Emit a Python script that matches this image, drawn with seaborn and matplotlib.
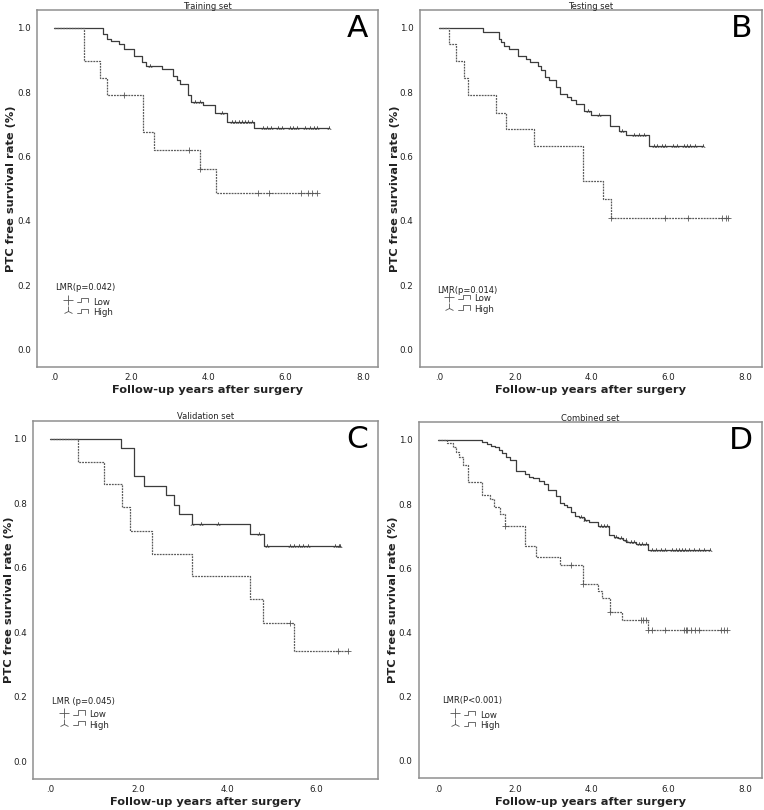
import numpy as np
import pandas as pd
import matplotlib
matplotlib.use("Agg")
import matplotlib.pyplot as plt
import seaborn as sns
from matplotlib.lines import Line2D
from matplotlib.legend_handler import HandlerBase

# step values: event times, survival after each event, censor times
# A - training set
A_low_t = [0.78, 1.19, 1.38, 2.30, 2.59, 3.79, 4.19]
A_low_s = [0.896, 0.843, 0.790, 0.677, 0.620, 0.560, 0.488]
A_low_c = [1.80, 3.50, 3.79, 5.28, 5.58, 6.39, 6.58, 6.69, 6.81]
A_high_t = [1.28, 1.38, 1.48, 1.68, 1.80, 2.08, 2.27, 2.38, 2.79, 3.09, 3.18, 3.26, 3.48,
            3.54, 3.87, 4.17, 4.49, 5.19]
A_high_s = [0.980, 0.966, 0.958, 0.949, 0.936, 0.913, 0.893, 0.881, 0.872, 0.850, 0.838, 0.827,
            0.793, 0.770, 0.759, 0.734, 0.707, 0.688]
A_high_c = [2.49, 3.65, 3.77, 4.34, 4.60, 4.69, 4.78, 4.86, 4.95, 5.03, 5.12, 5.42, 5.51, 5.61,
            5.81, 5.90, 6.11, 6.20, 6.29, 6.50, 6.63, 6.72, 6.81, 7.11]

# B - testing set
B_low_t = [0.26, 0.45, 0.65, 0.76, 1.48, 1.76, 2.48, 3.77, 4.29, 4.49]
B_low_s = [0.949, 0.896, 0.843, 0.790, 0.737, 0.685, 0.632, 0.525, 0.468, 0.409]
B_low_c = [4.49, 5.90, 6.50, 7.40, 7.50, 7.54]
B_high_t = [1.15, 1.57, 1.63, 1.71, 1.84, 2.07, 2.28, 2.37, 2.58, 2.68, 2.78, 2.87, 3.07, 3.17,
            3.35, 3.46, 3.57, 3.78, 3.98, 4.48, 4.70, 4.90, 5.48]
B_high_s = [0.989, 0.966, 0.955, 0.945, 0.934, 0.914, 0.903, 0.893, 0.882, 0.869, 0.848, 0.838,
            0.815, 0.796, 0.786, 0.775, 0.763, 0.741, 0.729, 0.694, 0.681, 0.667, 0.632]
B_high_c = [3.89, 4.19, 4.78, 5.10, 5.22, 5.35, 5.61, 5.70, 5.83, 5.91, 6.11, 6.22, 6.39, 6.48,
            6.57, 6.70, 6.91]

# C - validation set
C_low_t = [0.62, 1.22, 1.62, 1.81, 2.31, 3.21, 4.51, 4.81, 5.51]
C_low_s = [0.929, 0.859, 0.787, 0.715, 0.644, 0.573, 0.502, 0.430, 0.343]
C_low_c = [5.42, 6.50, 6.72]
C_high_t = [1.60, 1.90, 2.11, 2.61, 2.80, 2.91, 3.21, 4.51, 4.82]
C_high_s = [0.972, 0.884, 0.854, 0.825, 0.796, 0.767, 0.737, 0.704, 0.668]
C_high_c = [3.21, 3.41, 3.80, 4.72, 4.90, 5.41, 5.51, 5.62, 5.71, 5.81, 6.43, 6.52, 6.54]

# D - combined set
D_low_t = [0.23, 0.39, 0.47, 0.56, 0.66, 0.77, 1.15, 1.35, 1.46, 1.62, 1.75, 2.26, 2.55, 3.18,
           3.78, 4.17, 4.28, 4.48, 4.78, 5.47]
D_low_s = [0.990, 0.977, 0.962, 0.946, 0.922, 0.868, 0.829, 0.815, 0.790, 0.770, 0.731, 0.671,
           0.635, 0.612, 0.552, 0.531, 0.508, 0.464, 0.438, 0.409]
D_low_c = [1.75, 3.47, 3.78, 4.48, 5.28, 5.34, 5.41, 5.47, 5.58, 5.90, 6.39, 6.45, 6.49, 6.58,
           6.69, 6.79, 7.36, 7.44, 7.51]
D_high_t = [1.15, 1.28, 1.39, 1.49, 1.58, 1.67, 1.78, 1.87, 2.04, 2.26, 2.36, 2.47, 2.62, 2.77,
            2.86, 3.06, 3.17, 3.27, 3.36, 3.46, 3.56, 3.66, 3.79, 3.94, 4.17, 4.46, 4.57, 4.69,
            4.81, 4.90, 5.16, 5.47]
D_high_s = [0.993, 0.987, 0.982, 0.977, 0.969, 0.958, 0.948, 0.938, 0.904, 0.894, 0.884, 0.882,
            0.873, 0.863, 0.844, 0.826, 0.805, 0.798, 0.790, 0.775, 0.762, 0.759, 0.751, 0.743,
            0.733, 0.704, 0.699, 0.695, 0.687, 0.681, 0.676, 0.658]
D_high_c = [3.71, 3.82, 4.23, 4.31, 4.40, 4.62, 4.75, 4.88, 5.01, 5.09, 5.22, 5.31, 5.40, 5.57,
            5.67, 5.79, 5.90, 6.09, 6.18, 6.26, 6.35, 6.44, 6.52, 6.66, 6.79, 6.92, 7.09]

titles = ["Training set", "Testing set", "Validation set", "Combined set"]
letters = ["A", "B", "C", "D"]
pvals = ["LMR(p=0.042)", "LMR(p=0.014)", "LMR (p=0.045)", "LMR(P<0.001)"]
group_names = ["Low", "High"]

FRAME = "#8f8f8f"
HIGH_COL = "#3c3c3c"
LOW_COL = "#5a5a5a"
TXT = "#222222"


def km_frame(t, s, c):
    times = [0.0] + list(t) + [max(c)]
    surv = [1.0] + list(s) + [s[-1]]
    return pd.DataFrame({"time": times, "surv": surv})


def censor_frame(t, s, c):
    idx = np.searchsorted(t, c, side="right")
    lookup = np.array([1.0] + list(s))
    return pd.DataFrame({"time": c, "surv": lookup[idx]})


class StepIcon(HandlerBase):
    # SPSS-like legend glyph: censor marker + small step line
    def create_artists(self, legend, orig, xd, yd, w, h, fontsize, trans):
        mk = Line2D([xd + w * 0.12], [yd + h * 0.5], marker=orig.get_marker(), ls="none",
                    color="#555555", ms=7, mew=0.6)
        xs = xd + w * np.array([0.45, 0.62, 0.62, 0.86, 0.86])
        ys = yd + h * np.array([0.25, 0.25, 0.85, 0.85, 0.25])
        ln = Line2D(xs, ys, color="#555555", lw=0.6)
        mk.set_transform(trans)
        ln.set_transform(trans)
        return [mk, ln]


sns.set_style("white")
plt.rcParams["font.family"] = ["DejaVu Sans"]

fig = plt.figure(figsize=(7.64, 8.10), dpi=100)
boxes = [
    [37 / 764, 1 - 366.7 / 810, 341 / 764, 356.7 / 810],
    [419.7 / 764, 1 - 366.7 / 810, 342.3 / 764, 356.7 / 810],
    [33.3 / 764, 1 - 778.7 / 810, 344.7 / 764, 358 / 810],
    [418.7 / 764, 1 - 778.3 / 810, 343.3 / 764, 356.3 / 810],
]
xlims = [(-0.44, 8.39), (-0.5, 8.44), (-0.38, 7.4), (-0.5, 8.43)]
xtick_sets = [[0, 2, 4, 6, 8], [0, 2, 4, 6, 8], [0, 2, 4, 6], [0, 2, 4, 6, 8]]
ylab_x = [-0.063, -0.059, -0.057, -0.060]
# legend title (x, y) and entry block top-left, in axes fractions
ltitle_pos = [(0.053, 0.221), (0.05, 0.215), (0.053, 0.217), (0.068, 0.217)]
lbox_pos = [(0.080, 0.194), (0.077, 0.203), (0.080, 0.192), (0.095, 0.190)]

panels = [
    (A_low_t, A_low_s, A_low_c, A_high_t, A_high_s, A_high_c),
    (B_low_t, B_low_s, B_low_c, B_high_t, B_high_s, B_high_c),
    (C_low_t, C_low_s, C_low_c, C_high_t, C_high_s, C_high_c),
    (D_low_t, D_low_s, D_low_c, D_high_t, D_high_s, D_high_c),
]

for i, (lt, ls_, lc, ht, hs, hc) in enumerate(panels):
    ax = fig.add_axes(boxes[i])

    # high group - solid line, tri markers
    sns.lineplot(data=km_frame(ht, hs, hc), x="time", y="surv", ax=ax, estimator=None,
                 sort=False, drawstyle="steps-post", color=HIGH_COL, lw=0.9)
    sns.scatterplot(data=censor_frame(ht, hs, hc), x="time", y="surv", ax=ax, marker="2",
                    s=10, color=HIGH_COL, linewidth=0.6, legend=False)
    # low group - dotted line, plus markers
    sns.lineplot(data=km_frame(lt, ls_, lc), x="time", y="surv", ax=ax, estimator=None,
                 sort=False, drawstyle="steps-post", color=LOW_COL, lw=0.9,
                 linestyle=(0, (1.5, 0.8)))
    sns.scatterplot(data=censor_frame(lt, ls_, lc), x="time", y="surv", ax=ax, marker="+",
                    s=16, color=LOW_COL, linewidth=0.6, legend=False)

    ax.set_xlim(*xlims[i])
    ax.set_ylim(-0.054, 1.056)
    ax.set_xticks(xtick_sets[i])
    ax.set_xticklabels([".0" if v == 0 else f"{v:.1f}" for v in xtick_sets[i]])
    yt = [0.0, 0.2, 0.4, 0.6, 0.8, 1.0]
    ax.set_yticks(yt)
    ax.set_yticklabels([f"{v:.1f}" for v in yt])
    ax.tick_params(axis="both", direction="out", length=2.5, width=0.6, color=FRAME,
                   labelsize=6.3, pad=2, labelcolor=TXT)
    for sp in ax.spines.values():
        sp.set_color(FRAME)
        sp.set_linewidth(1.1)

    ax.set_xlabel("Follow-up years after surgery", fontsize=8.2, fontweight="bold",
                  color=TXT, labelpad=2.5)
    ax.set_ylabel("PTC free survival rate (%)", fontsize=8.2, fontweight="bold", color=TXT)
    ax.yaxis.set_label_coords(ylab_x[i], 0.5)
    ax.set_title(titles[i], fontsize=6, color=TXT, pad=1)
    ax.text(0.94, 0.947, letters[i], transform=ax.transAxes, fontsize=22.5,
            ha="center", va="center", color="black")

    ax.text(*ltitle_pos[i], pvals[i], transform=ax.transAxes, fontsize=6, color=TXT,
            ha="left", va="center")
    handles = [Line2D([], [], marker="+"), Line2D([], [], marker="2")]
    ax.legend(handles, group_names, loc="upper left", bbox_to_anchor=lbox_pos[i],
              frameon=False, fontsize=6.2, handler_map={Line2D: StepIcon()},
              handlelength=3.2, handleheight=0.9, handletextpad=0.1,
              labelspacing=0.2, borderaxespad=0, borderpad=0)

fig.savefig("out.png", dpi=100)
